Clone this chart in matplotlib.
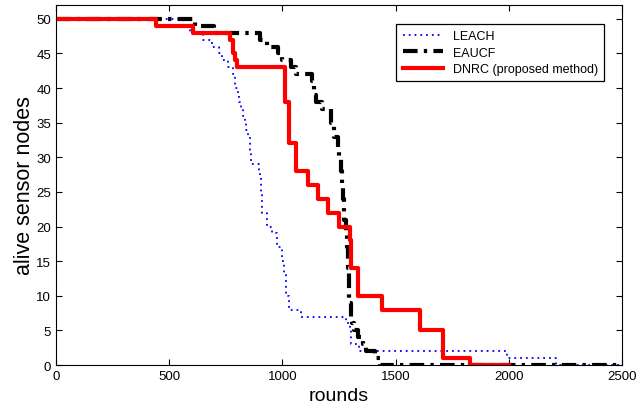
import matplotlib.pyplot as plt
import numpy as np

plt.rcParams['font.family'] = ['Liberation Sans', 'DejaVu Sans']

# LEACH (blue dotted)
leach_rounds = [0, 560, 590, 650, 690, 720, 735, 760, 780, 790, 805, 810, 815, 825, 835, 840,
                850, 855, 862, 895, 902, 906, 910, 930, 955, 975, 1000, 1008, 1018, 1030,
                1080, 1280, 1300, 1305, 1340, 1990, 2210, 2500]
leach_alive = [50, 49, 48, 47, 46, 45, 44, 43, 42, 40, 39, 38, 37, 36, 35, 34,
               33, 31, 29, 28, 27, 25, 22, 20, 19, 17, 15, 13, 10, 8,
               7, 6, 5, 3, 2, 1, 0, 0]

# EAUCF (black dash-dot)
eaucf_rounds = [0, 612, 700, 900, 930, 980, 1000, 1040, 1060, 1130, 1140, 1150, 1175, 1215,
                1230, 1245, 1252, 1258, 1262, 1268, 1272, 1280, 1285, 1288, 1292, 1296,
                1302, 1306, 1318, 1335, 1355, 1370, 1410, 1430, 2500]
eaucf_alive = [50, 49, 48, 47, 46, 45, 44, 43, 42, 41, 39, 38, 37, 35,
               33, 31, 30, 28, 26, 24, 21, 19, 17, 14, 12, 9,
               7, 6, 5, 4, 3, 2, 1, 0, 0]

# DNRC (red solid)
dnrc_rounds = [0, 440, 605, 770, 780, 790, 800, 1010, 1030, 1060, 1115, 1155, 1200, 1248,
               1300, 1305, 1333, 1438, 1606, 1708, 1827, 2000]
dnrc_alive = [50, 49, 48, 47, 45, 44, 43, 38, 32, 28, 26, 24, 22, 20,
              18, 14, 10, 8, 5, 1, 0, 0]

fig = plt.figure(figsize=(6.37, 4.10), dpi=100)
ax = fig.add_axes([0.0879, 0.1073, 0.8886, 0.8781])

ax.plot(leach_rounds, leach_alive, drawstyle='steps-post', color='#0000ff',
        linestyle=(0, (1, 2.2)), linewidth=1.3, label='LEACH')
ax.plot(eaucf_rounds, eaucf_alive, drawstyle='steps-post', color='black',
        linestyle=(0, (3.5, 1.5, 0.8, 1.5)), linewidth=3, label='EAUCF')
ax.plot(dnrc_rounds, dnrc_alive, drawstyle='steps-post', color='#ff0000',
        linewidth=3, label='DNRC (proposed method)')

ax.set_xlim(0, 2500)
ax.set_ylim(0, 52)
ax.set_xticks(np.arange(0, 2501, 500))
ax.set_yticks(np.arange(0, 51, 5))
ax.tick_params(direction='in', top=True, right=True, labelsize=9.5, length=4)
ax.set_xlabel('rounds', fontsize=14, labelpad=4)
ax.set_ylabel('alive sensor nodes', fontsize=15.5, labelpad=1)

leg = ax.legend(loc='upper right', bbox_to_anchor=(0.968, 0.947), borderaxespad=0,
                fancybox=False, edgecolor='black', framealpha=1, fontsize=9,
                handlelength=3.2, labelspacing=0.35, borderpad=0.5)
leg.get_frame().set_linewidth(0.9)

fig.savefig('out.png', dpi=100)
